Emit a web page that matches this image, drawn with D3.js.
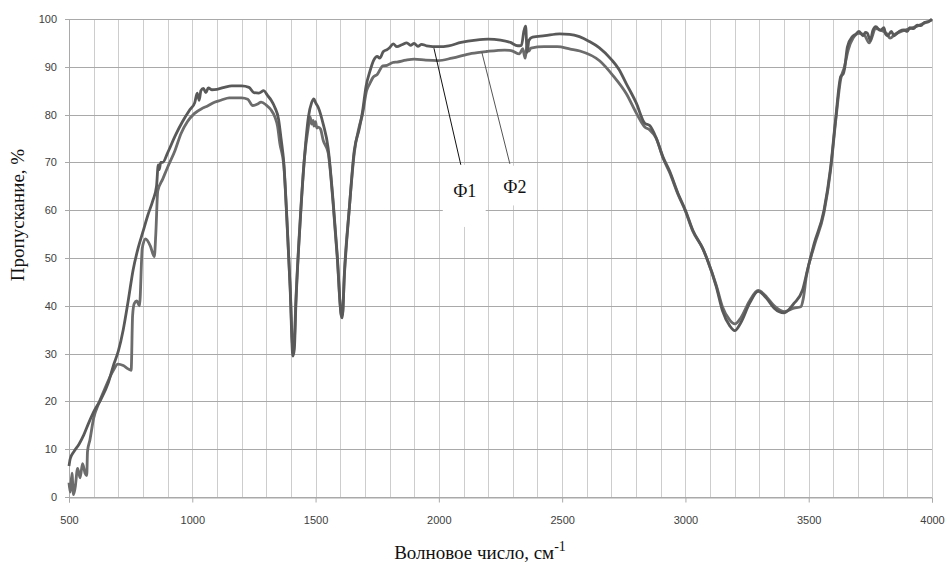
<!DOCTYPE html>
<html><head><meta charset="utf-8">
<script src="https://cdn.jsdelivr.net/npm/d3@7"></script>
<style>body{margin:0;background:#fff}svg{display:block}</style>
</head><body><svg id="c" width="947" height="566"></svg>
<script>
// Series F1 (wavenumber, transmittance %)
const wnF1 = [500,505,520,540,560,580,600,630,660,680,700,720,740,760,780,800,820,840,855,862,866,872,880,900,930,960,990,1010,1020,1028,1035,1045,1055,1065,1080,1100,1130,1160,1200,1230,1250,1270,1290,1305,1320,1335,1350,1360,1371,1384,1397,1408,1414,1420,1437,1455,1471,1484,1493,1500,1511,1531,1551,1571,1588,1604,1608,1617,1637,1657,1677,1690,1705,1720,1735,1750,1760,1775,1790,1800,1815,1830,1850,1870,1885,1900,1915,1930,1950,2000,2040,2090,2150,2200,2250,2290,2320,2335,2345,2352,2358,2365,2380,2430,2490,2530,2570,2610,2650,2700,2730,2760,2800,2835,2855,2880,2910,2935,2970,3000,3030,3070,3090,3125,3150,3180,3200,3225,3260,3295,3330,3360,3400,3440,3475,3495,3522,3562,3589,3609,3630,3640,3645,3657,3677,3690,3704,3720,3730,3738,3750,3760,3772,3790,3805,3812,3820,3835,3846,3860,3870,3886,3900,3910,3925,3940,3955,3970,3985,4000];
const tF1  = [6.5,8,9.5,11,13,15.5,17.8,20.5,24,27.5,30.5,35,41,47.5,52,55.5,59,62,65,69.5,68.5,70,70,72,75.5,78.5,81,82.5,84.5,83,85,85.5,84.6,85.6,85.2,85.3,85.7,86,86,85.7,84.6,84.5,85,84,83,81.5,79,75,70,58,43.5,29.5,31,40,57,71,79.5,82.5,83.3,82.5,81.5,78,73,62,50.5,38,37.5,46.5,60.5,72.5,77,80.5,86,89,91.3,92.2,91.8,93.2,93.6,94,94.8,94.2,94.6,95,94.5,94.9,94.3,94.7,94.4,94.2,94.4,95.1,95.6,95.8,95.6,95.1,94.4,94.5,97.5,98.5,93,95.5,96.2,96.5,96.9,96.8,96.3,95.3,94,91.5,89.5,86.5,82.5,78.2,77.7,75.3,71,68.3,63.5,60,55.8,52,49.5,44,39,35.8,34.8,36.5,40.5,43,41.5,39.5,38.5,40.5,43.3,47.5,53,60,69,79,88,88.5,89.5,94.2,96.3,96.8,97.4,96.5,97.2,97,95.5,97.6,98.4,97.6,98.2,96.8,96.5,97.4,96.5,97.1,97.5,97.7,97.4,98.2,98,98.7,98.6,99.3,99.4,100];

// Series F2
const wnF2 = [500,505,512,518,525,535,545,555,565,572,575,585,600,620,640,665,680,698,720,740,752,758,765,775,786,797,810,830,846,852,860,880,900,930,954,980,1008,1040,1062,1090,1116,1150,1200,1225,1245,1265,1279,1300,1319,1335,1346,1355,1371,1384,1397,1408,1413,1420,1437,1455,1471,1478,1484,1490,1493,1500,1505,1511,1520,1531,1551,1571,1588,1604,1609,1617,1637,1657,1677,1690,1707,1720,1733,1750,1773,1790,1813,1830,1867,1900,1947,1996,2053,2133,2193,2267,2293,2327,2340,2350,2358,2365,2373,2427,2480,2533,2572,2653,2707,2761,2802,2835,2855,2882,2910,2935,2970,3000,3030,3070,3090,3125,3150,3180,3200,3225,3260,3295,3330,3360,3400,3440,3468,3478,3490,3522,3562,3589,3609,3630,3645,3660,3680,3704,3725,3745,3772,3800,3815,3830,3850,3880,3910,3940,3975,4000];
const tF2  = [3,1,5,0.5,2,6,4,7,5,4.5,9.5,12,16.5,19.5,22,25,26.5,27.8,27.5,26.8,26.5,38,40.5,41,40,52,54,52.5,50.3,55,64,66.5,69,72.5,76,78.5,80.2,81.3,81.8,82.6,83,83.5,83.5,83.2,81.9,82.2,82.6,82,81,79.5,77.5,74,69.5,57.5,44,31,32,41,57.5,71,77.5,79.5,78,78.8,77.6,78.5,77.2,77.4,77,74.6,72,61.5,50,38.2,38,47,60.5,72,77.5,80,85,86.5,87.8,88.4,90.2,90.3,90.9,91,91.4,91.6,91.4,91.3,91.8,92.8,93.2,93.5,93.4,92.7,93.8,91.8,94.5,93.3,93.9,94.2,94.2,93.7,93.3,91.2,88.1,84.3,80.2,77.4,76.8,75,70.8,68,63.3,59.8,55.6,52,49.5,44.3,39.8,37,36.2,37.5,41,43.2,41.8,40,38.8,39.5,39.8,41.5,46,52.5,59.5,68.5,78.5,87.5,90,93.5,96,97,96.7,95,98,97.5,97,96,96.8,97.5,98,98.5,99.3,99.8];

const xTicks = [500,1000,1500,2000,2500,3000,3500,4000];
const yTicks = [0,10,20,30,40,50,60,70,80,90,100];
const seriesNames = ["Ф1","Ф2"];

const svg = d3.select("#c");
const m = {l:69, r:15, t:19, b:69};
const W = 947, H = 566;
const x = d3.scaleLinear().domain([500,4000]).range([m.l, W - m.r]);
const y = d3.scaleLinear().domain([0,100]).range([H - m.b, m.t]);

// vertical grid every 100
const vgrid = d3.range(600, 4001, 100);
svg.append("g").selectAll("line").data(vgrid).join("line")
  .attr("x1", d => Math.round(x(d)) + 0.5).attr("x2", d => Math.round(x(d)) + 0.5)
  .attr("y1", y(100)).attr("y2", y(0))
  .attr("stroke", "#cdcdcd").attr("stroke-width", 1);
// horizontal grid every 10
svg.append("g").selectAll("line").data(yTicks).join("line")
  .attr("x1", x(500) - 4).attr("x2", x(4000))
  .attr("y1", d => Math.round(y(d)) + 0.5).attr("y2", d => Math.round(y(d)) + 0.5)
  .attr("stroke", "#a9a9a9").attr("stroke-width", 1);
// left axis line
svg.append("line").attr("x1", Math.round(x(500)) + 0.5).attr("x2", Math.round(x(500)) + 0.5)
  .attr("y1", y(100)).attr("y2", y(0)).attr("stroke", "#a9a9a9");

// x axis ticks + labels
const xAxis = d3.axisBottom(x).tickValues(xTicks).tickSize(5).tickPadding(14).tickFormat(d3.format("d"));
const gx = svg.append("g").attr("transform", `translate(0,${Math.round(y(0)) + 0.5})`).call(xAxis);
gx.select(".domain").attr("stroke", "#a9a9a9");
gx.selectAll(".tick line").attr("stroke", "#a9a9a9");
gx.selectAll("text").attr("fill", "#404040").style("font-family", "Liberation Sans, Arial, sans-serif").style("font-size", "11px");

const yAxis = d3.axisLeft(y).tickValues(yTicks).tickSize(0).tickPadding(12);
const gy = svg.append("g").attr("transform", `translate(${x(500)},0)`).call(yAxis);
gy.select(".domain").remove();
gy.selectAll("text").attr("fill", "#404040").style("font-family", "Liberation Sans, Arial, sans-serif").style("font-size", "11px");

// lines
const line = d3.line().x(d => x(d[0])).y(d => y(d[1])).curve(d3.curveMonotoneX);
const dF1 = wnF1.map((w, i) => [w, tF1[i]]);
const dF2 = wnF2.map((w, i) => [w, tF2[i]]);
svg.append("path").datum(dF2).attr("d", line).attr("fill", "none")
  .attr("stroke", "#6c6c6c").attr("stroke-width", 2.8).attr("stroke-linejoin", "round");
svg.append("path").datum(dF1).attr("d", line).attr("fill", "none")
  .attr("stroke", "#595959").attr("stroke-width", 2.8).attr("stroke-linejoin", "round");

// annotation boxes (white) and leader lines
svg.append("rect").attr("x", x(2016)).attr("y", y(69.5)).attr("width", x(2190) - x(2016)).attr("height", y(56.5) - y(69.5)).attr("fill", "#fff");
svg.append("rect").attr("x", x(2203)).attr("y", y(69.3)).attr("width", x(2389) - x(2203)).attr("height", y(61) - y(69.3)).attr("fill", "#fff");
svg.append("line").attr("x1", x(1980)).attr("y1", y(93.9)).attr("x2", x(2089)).attr("y2", y(69.5))
  .attr("stroke", "#111").attr("stroke-width", 1);
svg.append("line").attr("x1", x(2174)).attr("y1", y(93.1)).attr("x2", x(2288)).attr("y2", y(69.7))
  .attr("stroke", "#555").attr("stroke-width", 1);
svg.append("text").attr("x", x(2105)).attr("y", y(62.8)).attr("text-anchor", "middle")
  .style("font-family", "Liberation Serif, Times New Roman, serif").style("font-size", "18px").attr("fill", "#111").text(seriesNames[0]);
svg.append("text").attr("x", x(2308)).attr("y", y(63.6)).attr("text-anchor", "middle")
  .style("font-family", "Liberation Serif, Times New Roman, serif").style("font-size", "18px").attr("fill", "#111").text(seriesNames[1]);

// axis titles
svg.append("text").attr("transform", `translate(24,215) rotate(-90)`).attr("text-anchor", "middle")
  .style("font-family", "Liberation Serif, Times New Roman, serif").style("font-size", "19px").attr("fill", "#111")
  .text("Пропускание, %");
const xt = svg.append("text").attr("x", 480).attr("y", 559).attr("text-anchor", "middle")
  .style("font-family", "Liberation Serif, Times New Roman, serif").style("font-size", "19px").attr("fill", "#111");
xt.append("tspan").text("Волновое число,  см");
xt.append("tspan").attr("dy", -8).style("font-size", "14px").text("-1");
</script></body></html>
